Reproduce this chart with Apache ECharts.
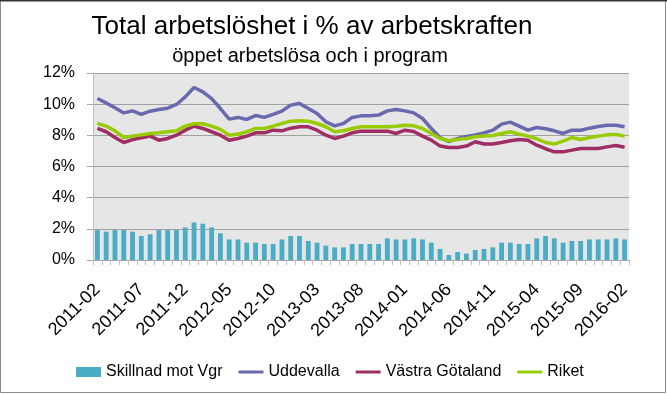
<!DOCTYPE html>
<html><head><meta charset="utf-8">
<script src="https://cdn.jsdelivr.net/npm/echarts@6/dist/echarts.min.js"></script>
<style>html,body{margin:0;padding:0;background:#fff}#c{width:667px;height:394px}</style>
</head><body><div id="c"></div>
<script>
const months = [
 '2011-02','2011-03','2011-04','2011-05','2011-06','2011-07','2011-08','2011-09','2011-10','2011-11','2011-12',
 '2012-01','2012-02','2012-03','2012-04','2012-05','2012-06','2012-07','2012-08','2012-09','2012-10','2012-11','2012-12',
 '2013-01','2013-02','2013-03','2013-04','2013-05','2013-06','2013-07','2013-08','2013-09','2013-10','2013-11','2013-12',
 '2014-01','2014-02','2014-03','2014-04','2014-05','2014-06','2014-07','2014-08','2014-09','2014-10','2014-11','2014-12',
 '2015-01','2015-02','2015-03','2015-04','2015-05','2015-06','2015-07','2015-08','2015-09','2015-10','2015-11','2015-12',
 '2016-01','2016-02'];
const skillnad = [1.92,1.82,1.92,1.92,1.82,1.54,1.65,1.92,1.92,1.92,
 2.09,2.41,2.33,2.09,1.71,1.32,1.32,1.11,1.11,1.03,
 1.03,1.32,1.54,1.54,1.22,1.11,0.92,0.81,0.81,1.03,
 1.03,1.03,1.03,1.39,1.32,1.32,1.39,1.32,1.11,0.71,
 0.32,0.51,0.41,0.64,0.71,0.81,1.11,1.11,1.03,1.03,
 1.39,1.54,1.39,1.11,1.22,1.22,1.32,1.32,1.32,1.39,1.32];
const uddevalla = [10.36,10.08,9.77,9.44,9.57,9.34,9.55,9.66,9.74,9.98,
 10.47,11.07,10.79,10.36,9.72,9.04,9.15,9.02,9.27,9.15,
 9.34,9.55,9.94,10.04,9.72,9.40,8.87,8.61,8.76,9.15,
 9.25,9.25,9.30,9.57,9.66,9.57,9.44,9.08,8.44,7.86,
 7.59,7.80,7.93,8.03,8.16,8.33,8.72,8.85,8.59,8.33,
 8.50,8.42,8.29,8.12,8.33,8.33,8.46,8.57,8.65,8.65,8.55];
const vastraGotaland = [8.44,8.23,7.86,7.54,7.73,7.84,7.95,7.69,7.80,8.01,
 8.33,8.59,8.44,8.23,8.01,7.69,7.80,7.95,8.16,8.16,
 8.33,8.29,8.46,8.55,8.55,8.33,8.01,7.80,7.95,8.16,
 8.27,8.27,8.27,8.27,8.12,8.33,8.25,7.95,7.69,7.31,
 7.22,7.22,7.31,7.59,7.44,7.44,7.54,7.65,7.73,7.69,
 7.37,7.14,6.94,6.94,7.05,7.16,7.16,7.16,7.26,7.35,7.24];
const riket = [8.76,8.59,8.29,7.86,7.95,8.03,8.12,8.16,8.23,8.29,
 8.59,8.74,8.74,8.59,8.38,8.01,8.08,8.23,8.44,8.44,
 8.59,8.76,8.91,8.93,8.91,8.76,8.55,8.23,8.29,8.44,
 8.55,8.55,8.55,8.55,8.59,8.65,8.61,8.44,8.12,7.80,
 7.65,7.73,7.80,7.91,7.95,7.99,8.12,8.23,8.08,7.95,
 7.78,7.54,7.44,7.63,7.86,7.73,7.86,7.95,8.03,8.06,7.95];
const seriesNames = ['Skillnad mot Vgr','Uddevalla','Västra Götaland','Riket'];
const titleText = 'Total arbetslöshet i % av arbetskraften';
const subtitleText = 'öppet arbetslösa och i program';

const FONT = 'Liberation Sans';
const LINE_ICON = 'path://M0,0M0,3.5L25,3.5L25,6.5L0,6.5ZM25,10';
const chart = echarts.init(document.getElementById('c'), null, {renderer:'canvas'});
chart.setOption({
  animation:false,
  backgroundColor:'#fff',
  textStyle:{fontFamily:FONT},
  title:[
    {text:titleText, left:307, top:9, textAlign:'center',
     textStyle:{fontFamily:FONT,fontSize:26,fontWeight:'normal',color:'#000'}},
    {text:subtitleText, left:305, top:41, textAlign:'center',
     textStyle:{fontFamily:FONT,fontSize:20,fontWeight:'normal',color:'#000'}}
  ],
  graphic:[
    {type:'rect', shape:{x:0.5,y:0.5,width:665,height:392}, style:{fill:null,stroke:'#8c8c8c',lineWidth:1}, silent:true},
    {type:'line', shape:{x1:0,y1:0.5,x2:667,y2:0.5}, style:{stroke:'#333',lineWidth:2}, silent:true}
  ],
  legend:{
    left:76, top:364, padding:0, itemGap:16, itemWidth:25, itemHeight:10,
    textStyle:{fontFamily:FONT,fontSize:16,color:'#000'},
    data:[
      {name:seriesNames[0], icon:'rect'},
      {name:seriesNames[1], icon:LINE_ICON},
      {name:seriesNames[2], icon:LINE_ICON},
      {name:seriesNames[3], icon:LINE_ICON}
    ]
  },
  grid:{left:93,right:38,top:73,bottom:134,show:true,backgroundColor:'#E6E6E6',borderWidth:0},
  xAxis:{
    type:'category', data:months, boundaryGap:true,
    axisLine:{show:true,lineStyle:{color:'#A6A6A6',width:1}},
    axisTick:{show:true,interval:0,length:5,lineStyle:{color:'#BFBFBF'}},
    axisLabel:{interval:4,rotate:45,margin:27,fontFamily:FONT,fontSize:18,color:'#000'},
    splitLine:{show:false}
  },
  yAxis:{
    type:'value', min:0, max:12, interval:2,
    axisLine:{show:true,lineStyle:{color:'#BFBFBF'}},
    axisTick:{show:true,length:6,lineStyle:{color:'#A6A6A6'}},
    axisLabel:{formatter:'{value}%',margin:18,fontFamily:FONT,fontSize:16,color:'#000'},
    splitLine:{show:true,lineStyle:{color:'#A0A0A0',width:1}}
  },
  series:[
    {name:seriesNames[0], type:'bar', data:skillnad, barWidth:'55%', itemStyle:{color:'#4BACC6'}},
    {name:seriesNames[1], type:'line', data:uddevalla, symbol:'none', lineStyle:{width:3.5,color:'#6969AD'}, itemStyle:{color:'#6969AD'}},
    {name:seriesNames[2], type:'line', data:vastraGotaland, symbol:'none', lineStyle:{width:3.5,color:'#9E2E63'}, itemStyle:{color:'#9E2E63'}},
    {name:seriesNames[3], type:'line', data:riket, symbol:'none', lineStyle:{width:3.5,color:'#99CC00'}, itemStyle:{color:'#99CC00'}}
  ]
});
</script></body></html>
